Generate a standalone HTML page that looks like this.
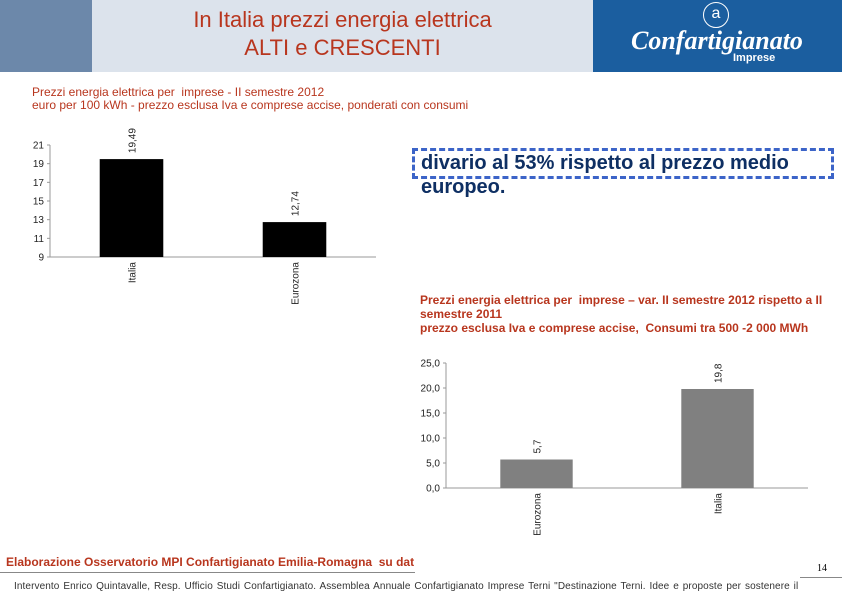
<!DOCTYPE html>
<html><head><meta charset="utf-8">
<style>
body{margin:0;width:842px;height:595px;position:relative;background:#fff;font-family:"Liberation Sans",sans-serif;overflow:hidden}
.abs{position:absolute}
</style></head><body>
<div class="abs" style="left:0;top:0;width:92px;height:72px;background:#6c88aa"></div>
<div class="abs" style="left:92px;top:0;width:501px;height:72px;background:#dce3ec"></div>
<div class="abs" style="left:92px;top:6px;width:501px;text-align:center;color:#b8361e;font-size:22px;line-height:28px">In Italia prezzi energia elettrica<br>ALTI e CRESCENTI</div>
<div class="abs" style="left:593px;top:0;width:249px;height:72px;background:#1b5e9f;color:#fff">
  <div class="abs" style="left:110px;top:2px;width:24px;height:24px;border:1.5px solid #fff;border-radius:50%;text-align:center;font-size:16px;line-height:22px">a</div>
  <div class="abs" style="left:38px;top:26px;font-family:'Liberation Serif',serif;font-style:italic;font-weight:bold;font-size:26px">Confartigianato</div>
  <div class="abs" style="left:140px;top:52px;font-size:11px;font-weight:bold">Imprese</div>
</div>
<div class="abs" style="left:32px;top:86px;color:#b8361e;font-size:12px;line-height:13px">Prezzi energia elettrica per&nbsp; imprese - II semestre 2012<br>euro per 100 kWh - prezzo esclusa Iva e comprese accise, ponderati con consumi</div>
<div class="abs" style="left:412px;top:148px;width:416px;height:25px;border:3px dashed #3c64c8"></div>
<div class="abs" style="left:421px;top:151px;width:410px;color:#0e2f63;font-size:20px;line-height:24px;font-weight:bold">divario al 53% rispetto al prezzo medio europeo.</div>
<div class="abs" style="left:420px;top:293px;width:415px;color:#b8361e;font-size:12px;line-height:14px;font-weight:bold">Prezzi energia elettrica per&nbsp; imprese – var. II semestre 2012 rispetto a II semestre 2011<br>prezzo esclusa Iva e comprese accise,&nbsp; Consumi tra 500 -2 000 MWh</div>

<svg class="abs" style="left:0;top:0" width="842" height="595">
<g id="c1"></g>
<g id="c2"></g>
</svg>

<div class="abs" style="left:6px;top:555px;color:#b8361e;font-size:12px;font-weight:bold">Elaborazione Osservatorio MPI Confartigianato Emilia-Romagna&nbsp; su dat</div>
<div class="abs" style="left:0;top:572px;width:415px;height:1px;background:#888"></div>
<div class="abs" style="left:800px;top:577px;width:42px;height:1px;background:#888"></div>
<div class="abs" style="left:817px;top:563px;font-size:10px;font-family:'Liberation Serif',serif">14</div>
<div class="abs" style="left:14px;top:581px;font-size:10px;color:#333;white-space:nowrap;letter-spacing:0.1px;word-spacing:1px">Intervento Enrico Quintavalle, Resp. Ufficio Studi Confartigianato. Assemblea Annuale Confartigianato Imprese Terni "Destinazione Terni. Idee e proposte per sostenere il</div>

<script>
const c1Categories=["Italia","Eurozona"];
const c1Values=[19.49,12.74];
const c1Labels=["19,49","12,74"];
const c1Ticks=[9,11,13,15,17,19,21];
const c2Categories=["Eurozona","Italia"];
const c2Values=[5.7,19.8];
const c2Labels=["5,7","19,8"];
const c2Ticks=[0,5,10,15,20,25];

const NS="http://www.w3.org/2000/svg";
function mk(p,t,a){const e=document.createElementNS(NS,t);for(const k in a)e.setAttribute(k,a[k]);p.appendChild(e);return e;}
function draw(g,o){
  const y=v=>o.y0-(v-o.min)/(o.max-o.min)*(o.y0-o.y1);
  const band=(o.x1-o.x0)/o.cats.length;
  const ax=mk(g,'line',{x1:o.x0,y1:o.y1,x2:o.x0,y2:o.y0,stroke:'#999'});
  
  
  const bx=mk(g,'line',{x1:o.x0,y1:o.y0,x2:o.x1,y2:o.y0,stroke:'#999'});
  
  
  o.ticks.forEach(t=>{
    mk(g,'line',{x1:o.x0-3,y1:y(t),x2:o.x0,y2:y(t),stroke:'#999'});
    const tx=mk(g,'text',{x:o.x0-6,y:y(t)+3.5,'text-anchor':'end','font-size':o.fs,fill:'#222'});
    tx.textContent=o.fmt(t);
    
    
  });
  o.cats.forEach((c,i)=>{
    const cx=o.x0+band*(i+0.5),w=band*o.bw,v=o.vals[i];
    const r=mk(g,'rect',{x:cx-w/2,y:y(v),width:w,height:o.y0-y(v),fill:o.color});
    
    
    const vl=mk(g,'text',{transform:`translate(${cx+4},${y(v)-6}) rotate(-90)`,'font-size':o.fs,fill:'#222'});
    vl.textContent=o.labels[i];
    
    
    const cl=mk(g,'text',{transform:`translate(${cx+4},${o.y0+5}) rotate(-90)`,'text-anchor':'end','font-size':o.fs,fill:'#222'});
    cl.textContent=c;
    
    
  });
}
draw(document.getElementById('c1'),{x0:50,x1:376,y0:257,y1:145,min:9,max:21,ticks:c1Ticks,cats:c1Categories,vals:c1Values,labels:c1Labels,color:'#000',bw:0.39,fs:10,fmt:t=>String(t)});
draw(document.getElementById('c2'),{x0:446,x1:808,y0:488,y1:363,min:0,max:25,ticks:c2Ticks,cats:c2Categories,vals:c2Values,labels:c2Labels,color:'#808080',bw:0.4,fs:10,fmt:t=>t.toFixed(1).replace('.',',')});
</script>
</body></html>
